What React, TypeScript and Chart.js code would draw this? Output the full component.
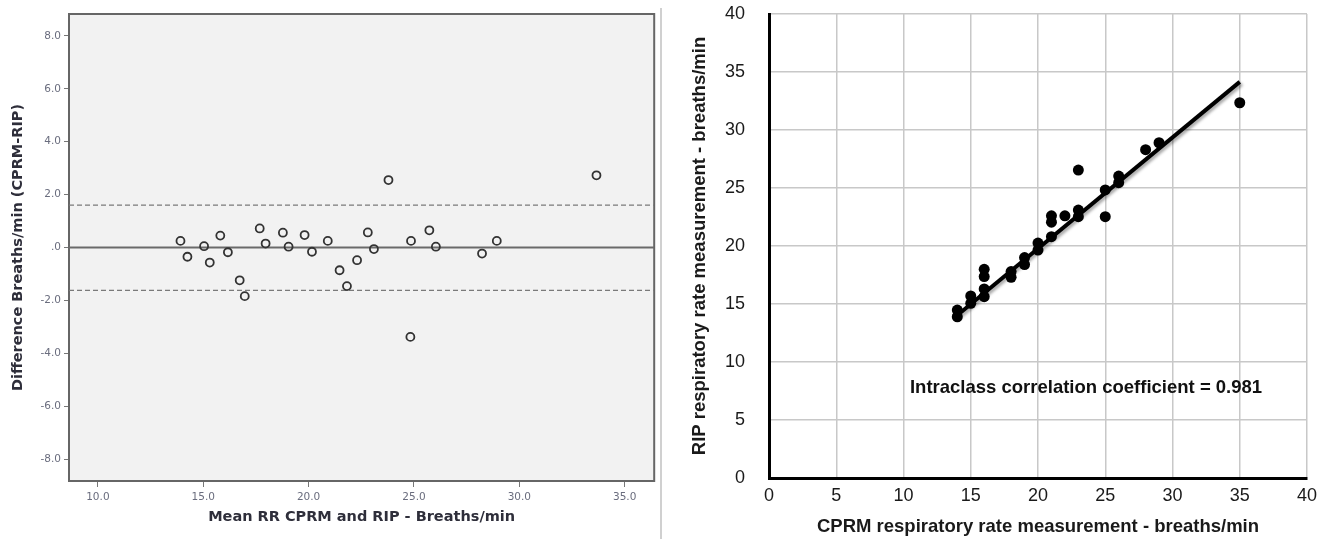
import React, { useEffect, useRef } from 'react';
import { Chart, registerables } from 'chart.js';

Chart.register(...registerables);

// ---------- Left panel: Bland-Altman ----------
const baMeanRR = [13.92, 14.25, 15.04, 15.31, 15.81, 16.17, 16.73, 16.97, 17.68, 17.96, 18.78, 19.05, 19.81, 20.16, 20.91, 21.47, 21.82, 22.3, 22.81, 23.1, 23.79, 24.86, 24.83, 25.73, 26.04, 28.23, 28.93, 33.66];
const baDiff = [0.25, -0.35, 0.05, -0.57, 0.45, -0.18, -1.24, -1.84, 0.72, 0.15, 0.56, 0.03, 0.47, -0.16, 0.25, -0.86, -1.46, -0.48, 0.57, -0.06, 2.55, 0.25, -3.38, 0.65, 0.03, -0.23, 0.25, 2.73];
const baBias = 0.0;
const baUpperLimit = 1.6;
const baLowerLimit = -1.62;
const baXRange = [8.63, 36.4];
const baYRange = [-8.83, 8.83];
const baXTicks = [10, 15, 20, 25, 30, 35];
const baYTicks = [-8, -6, -4, -2, 0, 2, 4, 6, 8];
const baXTitle = 'Mean RR CPRM and RIP - Breaths/min';
const baYTitle = 'Difference Breaths/min (CPRM-RIP)';

// ---------- Right panel: CPRM vs RIP ----------
const cprm = [14, 14, 15, 15, 16, 16, 16, 16, 18, 18, 19, 19, 20, 20, 21, 21, 21, 22, 23, 23, 23, 25, 25, 26, 26, 28, 29, 35];
const rip = [14.48, 13.9, 15.7, 15.06, 17.99, 17.36, 16.3, 15.63, 17.8, 17.3, 19.0, 18.4, 20.25, 19.65, 22.6, 22.05, 20.8, 22.6, 26.55, 23.1, 22.53, 24.83, 22.53, 26.03, 25.46, 28.3, 28.9, 32.35];
const fitXRange = [14, 35];
const fitSlope = 0.958;
const fitIntercept = 0.62;
const axisRange = [0, 40];
const axisStep = 5;
const iccLabel = 'Intraclass correlation coefficient = 0.981';
const iccPos = [10.48, 7.75];
const rightXTitle = 'CPRM respiratory rate measurement - breaths/min';
const rightYTitle = 'RIP respiratory rate measurement - breaths/min';

const spssFont = "'DejaVu Sans', Verdana, sans-serif";
const arialFont = "'Liberation Sans', Arial, Helvetica, sans-serif";

function BlandAltman() {
  const ref = useRef<HTMLCanvasElement | null>(null);
  useEffect(() => {
    if (!ref.current) return;
    const framePlugin = {
      id: 'baFrame',
      beforeDraw(chart: any) {
        const { ctx, chartArea: a } = chart;
        ctx.save();
        ctx.fillStyle = '#f2f2f2';
        ctx.fillRect(a.left, a.top, a.right - a.left, a.bottom - a.top);
        ctx.restore();
      },
      beforeDatasetsDraw(chart: any) {
        const { ctx, chartArea: a } = chart;
        ctx.save();
        ctx.strokeStyle = '#666';
        ctx.lineWidth = 2;
        ctx.strokeRect(a.left, a.top, a.right - a.left, a.bottom - a.top);
        ctx.restore();
      },
    };
    const hline = (y: number) => [
      { x: baXRange[0], y },
      { x: baXRange[1], y },
    ];
    const chart = new Chart(ref.current, {
      type: 'scatter',
      data: {
        datasets: [
          {
            type: 'line',
            data: hline(baBias),
            borderColor: '#6a6a6a',
            borderWidth: 2,
            pointRadius: 0,
            order: 3,
          } as any,
          {
            type: 'line',
            data: hline(baUpperLimit),
            borderColor: '#7a7a7a',
            borderWidth: 1.2,
            borderDash: [5, 3],
            pointRadius: 0,
            order: 3,
          } as any,
          {
            type: 'line',
            data: hline(baLowerLimit),
            borderColor: '#7a7a7a',
            borderWidth: 1.2,
            borderDash: [5, 3],
            pointRadius: 0,
            order: 3,
          } as any,
          {
            data: baMeanRR.map((m, i) => ({ x: m, y: baDiff[i] })),
            pointStyle: 'circle',
            pointRadius: 4,
            pointBorderWidth: 1.8,
            borderColor: '#333',
            backgroundColor: 'rgba(0,0,0,0)',
            order: 1,
          },
        ],
      },
      options: {
        animation: false,
        responsive: false,
        events: [],
        layout: { padding: { top: 14, right: 4, left: 0, bottom: 0 } },
        plugins: { legend: { display: false }, tooltip: { enabled: false } },
        scales: {
          x: {
            type: 'linear',
            min: baXRange[0],
            max: baXRange[1],
            afterBuildTicks: (s: any) => {
              s.ticks = baXTicks.map((v) => ({ value: v }));
            },
            afterFit: (s: any) => {
              s.height = 58;
              s.paddingLeft = 0;
              s.paddingRight = 0;
            },
            grid: { drawOnChartArea: false, drawTicks: true, tickLength: 6, color: '#777', lineWidth: 1 },
            border: { display: false },
            ticks: {
              padding: 4,
              color: '#6a6d7e',
              font: { family: spssFont, size: 10.5 },
              callback: (v: any) => Number(v).toFixed(1),
            },
            title: {
              display: true,
              text: baXTitle,
              color: '#2e2e3a',
              font: { family: spssFont, size: 14.5, weight: 'bold' },
              padding: { top: 0, bottom: 13 },
            },
          },
          y: {
            type: 'linear',
            min: baYRange[0],
            max: baYRange[1],
            afterBuildTicks: (s: any) => {
              s.ticks = baYTicks.map((v) => ({ value: v }));
            },
            afterFit: (s: any) => {
              s.width = 69;
              s.paddingTop = 0;
              s.paddingBottom = 0;
            },
            grid: { drawOnChartArea: false, drawTicks: true, tickLength: 5, color: '#777', lineWidth: 1 },
            border: { display: false },
            ticks: {
              padding: 3,
              color: '#6a6d7e',
              font: { family: spssFont, size: 10.5 },
              callback: (v: any) => (Number(v) === 0 ? '.0' : Number(v).toFixed(1)),
            },
            title: {
              display: true,
              text: baYTitle,
              color: '#2e2e3a',
              font: { family: spssFont, size: 14.5, weight: 'bold' },
              padding: { top: 10, bottom: 0 },
            },
          },
        },
      },
      plugins: [framePlugin],
    } as any);
    return () => chart.destroy();
  }, []);
  return <canvas ref={ref} width={660} height={539} style={{ display: 'block', width: 660, height: 539 }} />;
}

function Agreement() {
  const ref = useRef<HTMLCanvasElement | null>(null);
  useEffect(() => {
    if (!ref.current) return;
    const plugin = {
      id: 'iccAnno',
      beforeDatasetDraw(chart: any, args: any) {
        if (args.index === 1) {
          const ctx = chart.ctx;
          ctx.save();
          ctx.shadowColor = 'rgba(0,0,0,0.35)';
          ctx.shadowBlur = 3;
          ctx.shadowOffsetX = 2;
          ctx.shadowOffsetY = 2;
        }
      },
      afterDatasetDraw(chart: any, args: any) {
        if (args.index === 1) chart.ctx.restore();
      },
      afterDatasetsDraw(chart: any) {
        const { ctx, scales } = chart;
        ctx.save();
        ctx.font = `bold 18.5px ${arialFont}`;
        ctx.fillStyle = '#111';
        ctx.textAlign = 'left';
        ctx.textBaseline = 'middle';
        ctx.fillText(iccLabel, scales.x.getPixelForValue(iccPos[0]), scales.y.getPixelForValue(iccPos[1]));
        ctx.restore();
      },
    };
    const chart = new Chart(ref.current, {
      type: 'scatter',
      data: {
        datasets: [
          {
            data: cprm.map((c, i) => ({ x: c, y: rip[i] })),
            pointRadius: 5.5,
            pointBorderWidth: 0,
            backgroundColor: '#000',
            borderColor: '#000',
            order: 2,
          },
          {
            type: 'line',
            data: fitXRange.map((x) => ({ x, y: fitSlope * x + fitIntercept })),
            borderColor: '#000',
            borderWidth: 4,
            pointRadius: 0,
            order: 1,
          } as any,
        ],
      },
      options: {
        animation: false,
        responsive: false,
        events: [],
        layout: { padding: { top: 14, right: 13, left: 0, bottom: 0 } },
        plugins: { legend: { display: false }, tooltip: { enabled: false } },
        scales: {
          x: {
            type: 'linear',
            min: axisRange[0],
            max: axisRange[1],
            afterFit: (s: any) => {
              s.height = 61;
              s.paddingLeft = 0;
              s.paddingRight = 0;
            },
            grid: { color: '#c8c8c8', lineWidth: 1.5, drawTicks: false },
            border: { color: '#000', width: 3 },
            ticks: {
              stepSize: axisStep,
              padding: 7,
              color: '#1a1a1a',
              font: { family: arialFont, size: 18 },
            },
            title: {
              display: true,
              text: rightXTitle,
              color: '#1a1a1a',
              font: { family: arialFont, size: 18.5, weight: 'bold' },
              padding: { top: 0, bottom: 1 },
            },
          },
          y: {
            type: 'linear',
            min: axisRange[0],
            max: axisRange[1],
            afterFit: (s: any) => {
              s.width = 109;
              s.paddingTop = 0;
              s.paddingBottom = 0;
            },
            grid: { color: '#c8c8c8', lineWidth: 1.5, drawTicks: false },
            border: { color: '#000', width: 3 },
            ticks: {
              stepSize: axisStep,
              padding: 24,
              color: '#1a1a1a',
              font: { family: arialFont, size: 18 },
            },
            title: {
              display: true,
              text: rightYTitle,
              color: '#1a1a1a',
              font: { family: arialFont, size: 18.5, weight: 'bold' },
              padding: { top: 29, bottom: 0 },
            },
          },
        },
      },
      plugins: [plugin],
    } as any);
    return () => chart.destroy();
  }, []);
  return <canvas ref={ref} width={660} height={539} style={{ display: 'block', width: 660, height: 539 }} />;
}

export default function App() {
  return (
    <div style={{ position: 'fixed', left: 0, top: 0, width: 1320, height: 539, background: '#fff', overflow: 'hidden' }}>
      <div style={{ position: 'absolute', left: 0, top: 0 }}>
        <BlandAltman />
      </div>
      <div style={{ position: 'absolute', left: 660, top: 8, width: 2, height: 531, background: '#d0d0d0' }} />
      <div style={{ position: 'absolute', left: 660, top: 0 }}>
        <Agreement />
      </div>
    </div>
  );
}
